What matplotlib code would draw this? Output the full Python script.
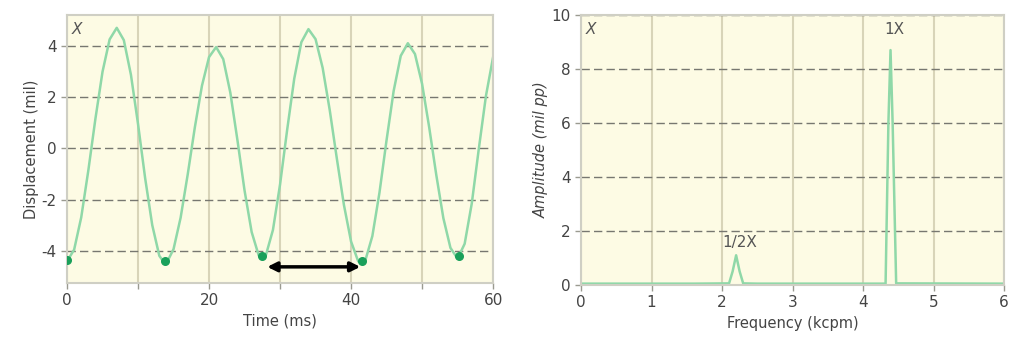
import matplotlib.pyplot as plt
from matplotlib.ticker import MultipleLocator

plt.rcParams["axes.unicode_minus"] = False

# waveform
time_ms = [0, 1, 2, 3, 4, 5, 6, 7, 8, 9, 10, 11, 12, 13, 13.8, 14, 15, 16, 17, 18, 19, 20,
           21, 22, 23, 24, 25, 26, 27, 27.5, 28, 29, 30, 31, 32, 33, 34, 35, 36, 37, 38, 39,
           40, 41, 41.5, 42, 43, 44, 45, 46, 47, 48, 49, 50, 51, 52, 53, 54, 55, 56, 57, 58,
           59, 60]
disp_mil = [-4.40, -3.95, -2.69, -0.86, 1.16, 2.99, 4.25, 4.70, 4.22, 2.87, 0.95, -1.16,
            -2.99, -4.19, -4.50, -4.48, -3.93, -2.70, -1.01, 0.82, 2.44, 3.56, 3.95, 3.48,
            2.17, 0.32, -1.64, -3.26, -4.18, -4.30, -4.17, -3.18, -1.41, 0.72, 2.72, 4.14,
            4.65, 4.26, 3.14, 1.49, -0.40, -2.21, -3.63, -4.40, -4.50, -4.38, -3.42, -1.73,
            0.32, 2.24, 3.61, 4.10, 3.68, 2.52, 0.83, -1.03, -2.72, -3.88, -4.30, -3.72,
            -2.15, 0.00, 2.05, 3.55]

# once-per-turn marks
mark_t = [0, 13.8, 27.5, 41.6, 55.2]
mark_y = [-4.35, -4.40, -4.20, -4.40, -4.20]

# spectrum
freq_kcpm = [0, 1.6, 2.1, 2.15, 2.2, 2.25, 2.3, 2.5, 4.32, 4.36, 4.39, 4.42, 4.47, 6]
amp_mil_pp = [0.05, 0.05, 0.06, 0.5, 1.1, 0.5, 0.06, 0.05, 0.05, 6.0, 8.7, 6.0, 0.06, 0.05]

line_col = "#8fd8a8"
dot_col = "#1aa05a"
bg = "#fdfbe4"
txt = "#444444"

fig = plt.figure(figsize=(10.11, 3.47), dpi=100)
ax1 = fig.add_axes([0.0663, 0.1844, 0.4214, 0.7723])
ax2 = fig.add_axes([0.5747, 0.1787, 0.4184, 0.7781])

for ax in (ax1, ax2):
    ax.set_facecolor(bg)
    for s in ax.spines.values():
        s.set_color("#cfcfc4")
        s.set_linewidth(1.5)
    ax.tick_params(colors="#9a9a90", labelcolor=txt, labelsize=11, length=4, width=1)
    ax.tick_params(which="minor", colors="#9a9a90", length=4, width=1)
    ax.grid(axis="y", color="#777770", linestyle=(0, (6, 3)), linewidth=1.0)
    ax.grid(axis="x", which="both", color="#d8d4b8", linestyle="-", linewidth=1.5)
    ax.set_axisbelow(True)

# left: time waveform
ax1.plot(time_ms, disp_mil, color=line_col, lw=1.8)
ax1.scatter(mark_t, mark_y, color=dot_col, s=30, zorder=3)
ax1.annotate("", xy=(28.2, -4.62), xytext=(41.3, -4.62),
             arrowprops=dict(arrowstyle="<|-|>", color="black", lw=2.5,
                             mutation_scale=14, shrinkA=0, shrinkB=0))
ax1.set_xlim(0, 60)
ax1.set_ylim(-5.25, 5.2)
ax1.xaxis.set_major_locator(MultipleLocator(20))
ax1.xaxis.set_minor_locator(MultipleLocator(10))
ax1.set_yticks([-4, -2, 0, 2, 4])
ax1.set_xlabel("Time (ms)", color=txt, fontsize=10.5)
ax1.set_ylabel("Displacement (mil)", color=txt, fontsize=10.5, labelpad=2)
ax1.text(0.012, 0.975, "X", transform=ax1.transAxes, ha="left", va="top",
         fontsize=11, style="italic", color="#555555")

# right: spectrum
ax2.plot(freq_kcpm, amp_mil_pp, color=line_col, lw=1.8)
ax2.set_xlim(0, 6)
ax2.set_ylim(0, 10)
ax2.xaxis.set_major_locator(MultipleLocator(1))
ax2.set_yticks([0, 2, 4, 6, 8, 10])
ax2.set_xlabel("Frequency (kcpm)", color=txt, fontsize=10.5)
ax2.set_ylabel("Amplitude (mil pp)", color=txt, fontsize=10.5, style="italic", labelpad=2)
ax2.text(0.012, 0.975, "X", transform=ax2.transAxes, ha="left", va="top",
         fontsize=11, style="italic", color="#555555")
ax2.text(2.25, 1.3, "1/2X", ha="center", va="bottom", fontsize=11, color="#555555")
ax2.text(4.45, 9.2, "1X", ha="center", va="bottom", fontsize=11, color="#555555")

fig.savefig("out.png", dpi=100)
